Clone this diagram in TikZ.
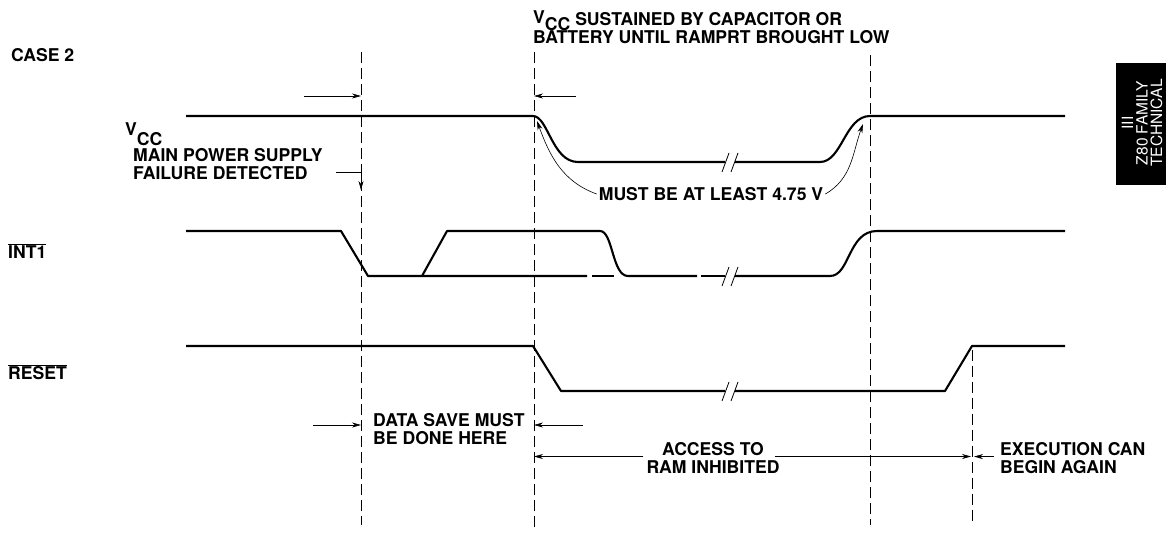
\documentclass[tikz,border=0pt]{standalone}
\usepackage{fontspec}
\setmainfont{TeX Gyre Heros}
\usetikzlibrary{arrows.meta}
\tikzset{
  sig/.style={line width=2.1pt,line join=round},
  guide/.style={line width=0.7pt,dash pattern=on 11pt off 5pt},
  dim/.style={line width=0.6pt,-{Stealth[length=9pt,width=5pt]}},
  lbl/.style={font=\fontsize{17.6}{18.5}\selectfont\bfseries,inner sep=0pt,align=left},
}
\begin{document}
\begin{tikzpicture}[x=1pt,y=-1pt]
  \useasboundingbox (0,0) rectangle (1166,533);
  % time marks
  \coordinate (t1) at (361,0);
  \coordinate (t2) at (534,0);
  \coordinate (t3) at (870,0);
  \coordinate (t4) at (972,0);
  \draw[guide] (361,52) -- (361,525);
  \draw[guide] (534,52) -- (534,527);
  \draw[guide] (870,55) -- (870,525);
  \draw[guide] (972,350) -- (972,525);
  % signal names
  \node[lbl,anchor=west] (case) at (11,55) {CASE 2};
  \node[lbl,anchor=base west] (vcc) at (125,135) {V\raisebox{-10pt}{CC}};
  \node[lbl,anchor=west] (int) at (8,251) {$\overline{\hbox{INT1}}$};
  \node[lbl,anchor=west] (rst) at (8,372) {$\overline{\hbox{RESET}}$};
  % waveforms
  \draw[sig] (186,116) -- (533,116) .. controls (548,116) and (552,162) .. (578,162) -- (725,162);
  \draw[sig] (735,162) -- (820,162) .. controls (842,162) and (845,116) .. (870,116) -- (1065,116);
  \draw[sig] (186,231) -- (341,231) -- (368,276) -- (587,276);
  \draw[sig] (592,276) -- (614,276);
  \draw[sig] (422,276) -- (447,231) -- (600,231) .. controls (613,231) and (612,276) .. (628,276) -- (697,276);
  \draw[sig] (701,276) -- (725,276);
  \draw[sig] (735,276) -- (830,276) .. controls (850,276) and (848,231) .. (877,231) -- (1065,231);
  \draw[sig] (186,346) -- (533,346) -- (561,391) -- (725,391);
  \draw[sig] (735,391) -- (945,391) -- (972,346) -- (1065,346);
  \foreach \y in {162,276,391} {
    \draw[line width=0.8pt] (722,\y+10) -- (729,\y-9);
    \draw[line width=0.8pt] (731,\y+10) -- (738,\y-9);
  }
  % notes
  \node[lbl,anchor=north west] (sust) at (533,10)
    {\raisebox{2pt}{V}\raisebox{-5pt}[0pt][0pt]{CC} SUSTAINED BY CAPACITOR OR\\BATTERY UNTIL RAMPRT BROUGHT LOW};
  \node[lbl,anchor=north west] (fail) at (133,148) {MAIN POWER SUPPLY\\FAILURE DETECTED};
  \node[lbl] (must) at (711,194) {MUST BE AT LEAST 4.75 V};
  \node[lbl,anchor=north west] (save) at (373,413) {DATA SAVE MUST\\BE DONE HERE};
  \node[lbl,align=center] (access) at (713,458) {ACCESS TO\\RAM INHIBITED};
  \node[lbl,anchor=north west] (exec) at (1000,442) {EXECUTION CAN\\BEGIN AGAIN};
  % arrows
  \draw[dim] (304,96) -- (t1 |- 0,96);
  \draw[dim] (576,96) -- (t2 |- 0,96);
  \draw[dim] (336,172) -- (361,172) -- (361,190);
  \draw[dim] ([xshift=-2pt]must.west) to[out=160,in=-70] (537,121);
  \draw[dim] ([xshift=2pt]must.east) to[out=30,in=-110] (863,124);
  \draw[dim] (313,425) -- (t1 |- 0,425);
  \draw[dim] (583,425) -- (t2 |- 0,425);
  \draw[dim] ([xshift=-3pt,yshift=1.5pt]access.west) -- ([yshift=1.5pt]t2 |- access.west);
  \draw[dim] ([xshift=-5pt,yshift=1.5pt]access.east) -- ([xshift=-1pt,yshift=1.5pt]t4 |- access.east);
  \draw[dim] ([xshift=-6pt,yshift=1.5pt]exec.west) -- ([xshift=2pt,yshift=1.5pt]t4 |- exec.west);
  % section tab
  \fill (1116,63) rectangle (1166,185);
  \node[rotate=90,text=white,align=center,inner sep=0pt,font=\fontsize{15.5}{14.5}\selectfont] (tab) at (1142,123) {III\\Z80 FAMILY\\TECHNICAL};
\end{tikzpicture}
\end{document}
